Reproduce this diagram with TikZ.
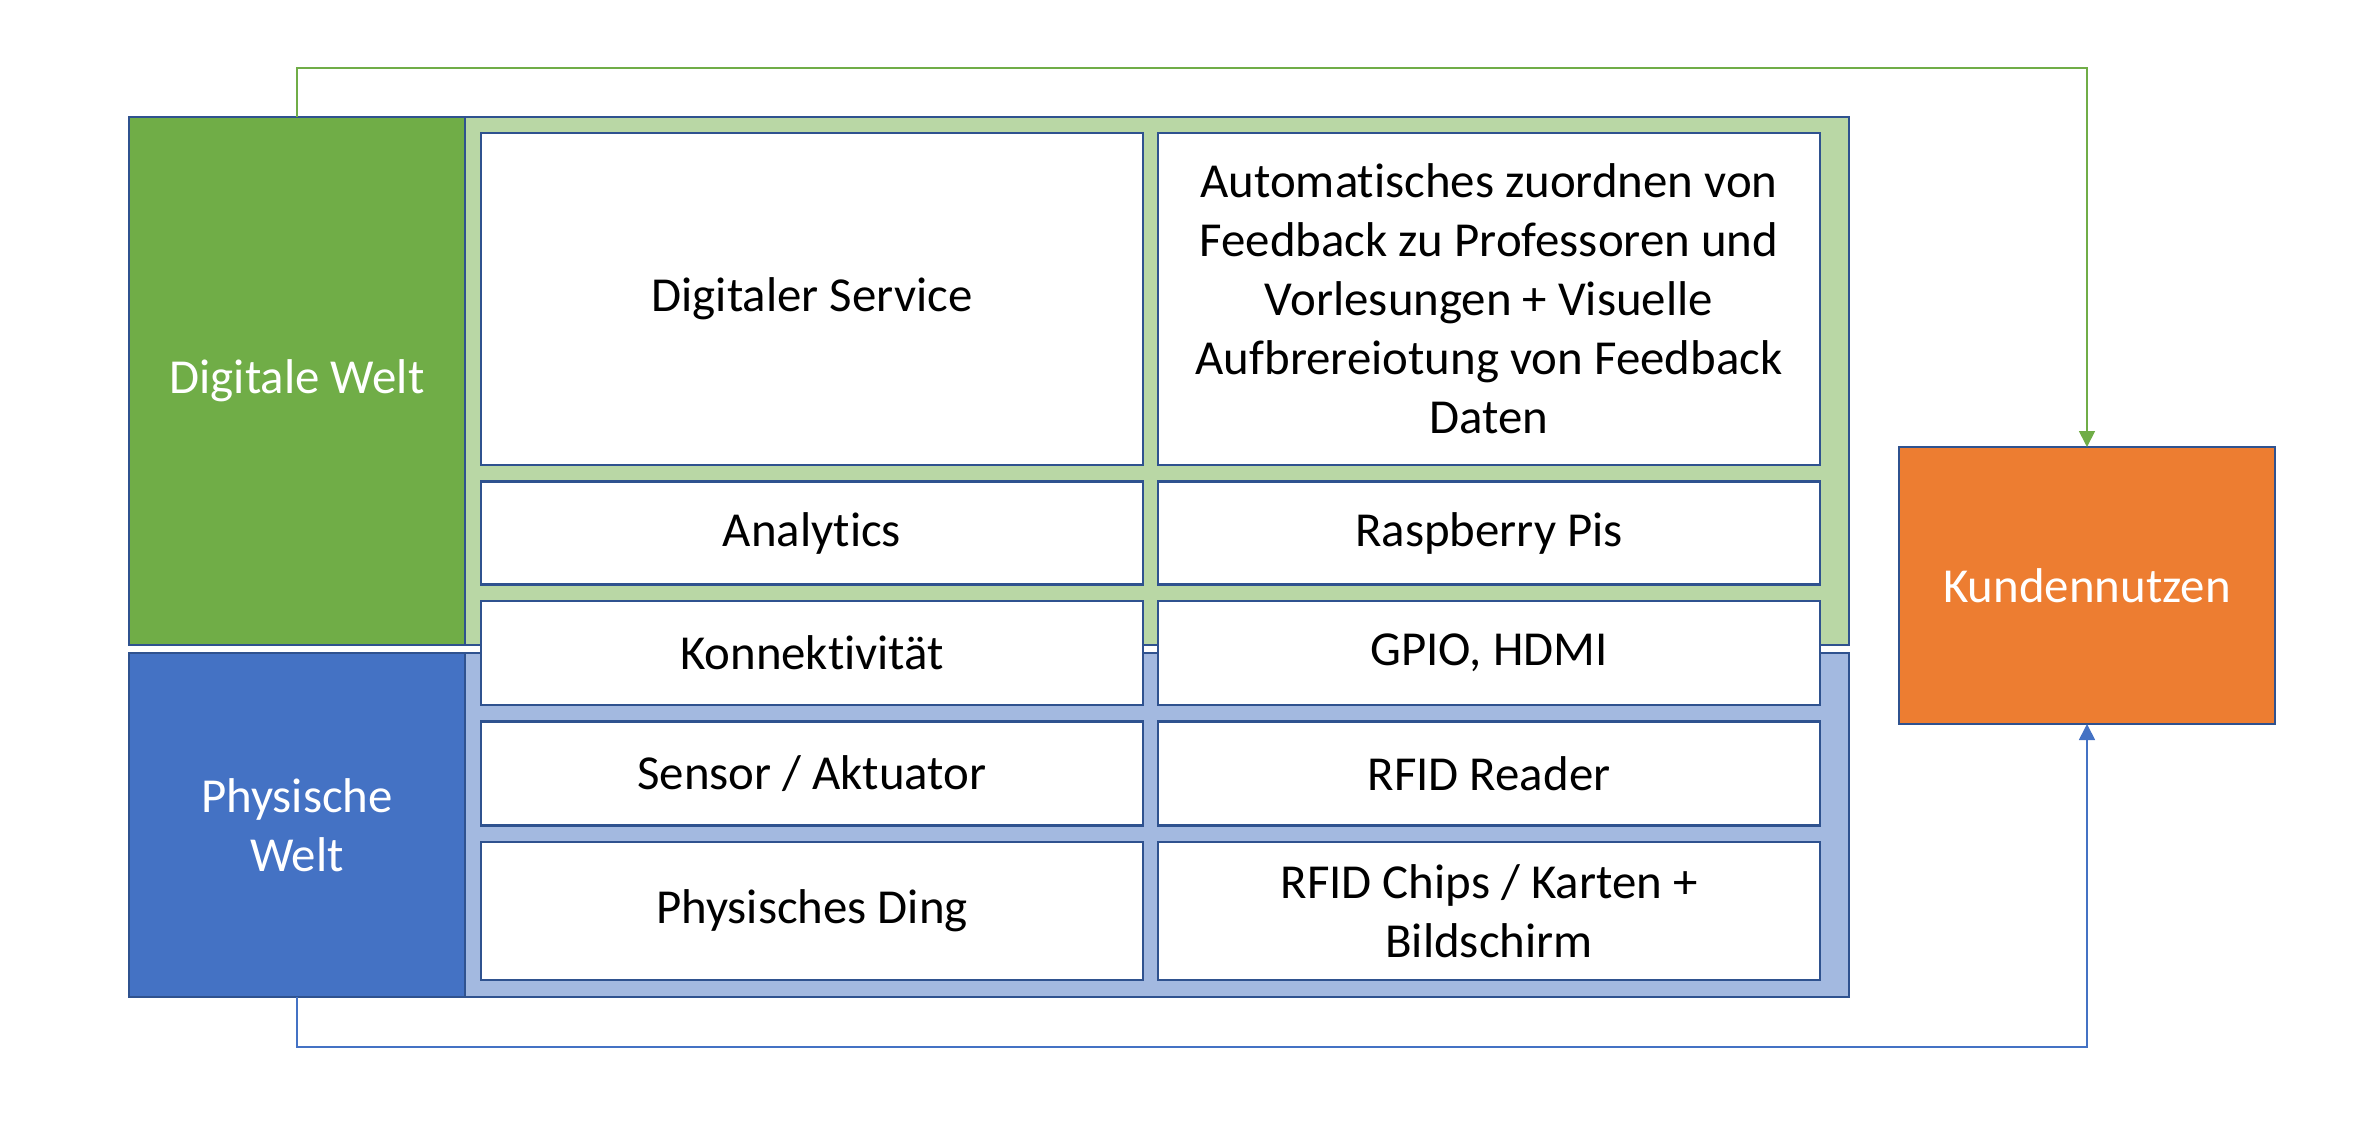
\documentclass[tikz,border=0pt]{standalone}
\usepackage{fontspec}
\setmainfont{Carlito}[Ligatures=NoCommon]
\definecolor{WorldGreen}{HTML}{70AD47}
\definecolor{WorldBlue}{HTML}{4472C4}
\definecolor{PaneGreen}{HTML}{B9D7A5}
\definecolor{PaneBlue}{HTML}{A3B9E0}
\definecolor{ValueOrange}{HTML}{ED7D31}
\definecolor{EdgeBlue}{HTML}{2F528F}
\usetikzlibrary{arrows.meta, positioning}

\begin{document}
\begin{tikzpicture}[font=\fontsize{13.9}{16.8}\selectfont,
    box/.style={draw=EdgeBlue, line width=0.6pt, outer sep=0pt, inner sep=0pt, align=center},
    cell/.style={box, fill=white, minimum width=6.62cm},
    link/.style={line width=0.5pt, -{Triangle[length=0.16cm, width=0.16cm]}},
    node distance=0.165cm and 0.15cm]
  \useasboundingbox (0,0) rectangle (23.8,-11.34);

  % Welten
  \node[box, fill=WorldGreen, text=white, minimum width=3.36cm, minimum height=5.28cm,
        anchor=north west] (dig) at (1.29,-1.17) {Digitale Welt};
  \node[box, fill=WorldBlue, text=white, minimum width=3.36cm, minimum height=3.44cm,
        anchor=north west] (phy) at (1.29,-6.53) {Physische\\Welt};
  \node[box, fill=PaneGreen, minimum width=13.84cm, minimum height=5.28cm,
        anchor=north west] (gpane) at (dig.north east) {};
  \node[box, fill=PaneBlue, minimum width=13.84cm, minimum height=3.44cm,
        anchor=north west] (bpane) at (phy.north east) {};

  % Ebenen, links
  \node[cell, minimum height=3.32cm, anchor=north west] (svc) at (4.81,-1.33) {Digitaler Service};
  \node[cell, minimum height=1.03cm, below=of svc] (ana) {Analytics};
  \node[cell, minimum height=1.04cm, below=of ana] (kon) {Konnektivität};
  \node[cell, minimum height=1.04cm, below=of kon] (sen) {Sensor / Aktuator};
  \node[cell, minimum height=1.38cm, below=of sen] (ding) {Physisches Ding};

  % Ebenen, rechts
  \node[cell, minimum height=3.32cm, right=of svc] (svcr)
    {Automatisches zuordnen von\\Feedback zu Professoren und\\Vorlesungen + Visuelle\\Aufbrereiotung von Feedback\\Daten};
  \node[cell, minimum height=1.03cm, right=of ana] (anar) {Raspberry Pis};
  \node[cell, minimum height=1.04cm, right=of kon] (konr) {GPIO, HDMI};
  \node[cell, minimum height=1.04cm, right=of sen] (senr) {RFID Reader};
  \node[cell, minimum height=1.38cm, right=of ding] (dingr) {RFID Chips / Karten +\\Bildschirm};

  \node[box, fill=ValueOrange, text=white, minimum width=3.76cm, minimum height=2.77cm,
        anchor=north west] (kund) at (18.99,-4.47) {Kundennutzen};

  \draw[link, WorldGreen] (dig.north) -- ++(0,0.49) -| (kund.north);
  \draw[link, WorldBlue] (phy.south) -- ++(0,-0.50) -| (kund.south);
\end{tikzpicture}
\end{document}
